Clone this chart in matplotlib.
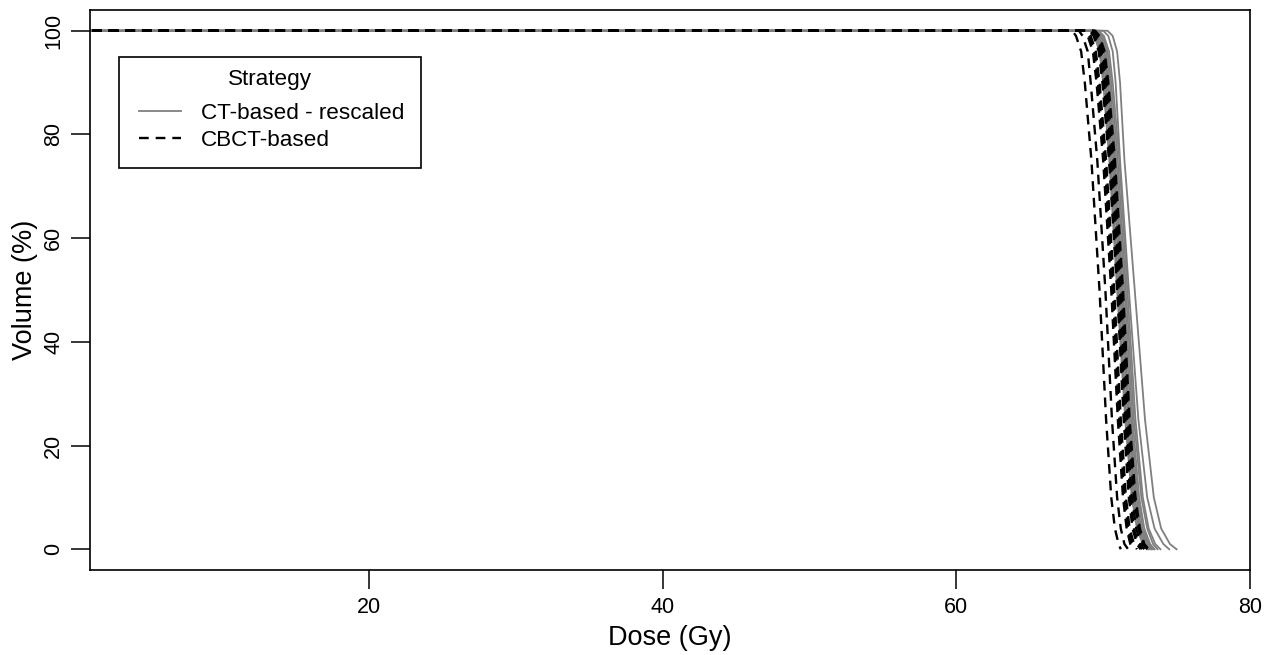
import numpy as np
import matplotlib
matplotlib.use("Agg")
import matplotlib.pyplot as plt
from matplotlib.lines import Line2D
from matplotlib.patches import Rectangle

plt.rcParams['font.family'] = ['Liberation Sans', 'DejaVu Sans']
plt.rcParams['lines.scale_dashes'] = False

vol_levels = [100, 99, 96, 90, 75, 50, 25, 10, 4, 1, 0]

# CT-based - rescaled (grey, solid): dose (Gy) at each volume level
ct_rescaled = [
    [70.30, 70.65, 70.95, 71.15, 71.45, 72.15, 72.85, 73.45, 73.95, 74.55, 75.00],
    [70.00, 70.35, 70.65, 70.85, 71.15, 71.75, 72.40, 73.00, 73.50, 74.10, 74.50],
    [69.70, 70.05, 70.40, 70.65, 71.10, 71.65, 72.20, 72.70, 73.10, 73.55, 73.90],
    [69.60, 69.95, 70.30, 70.55, 71.00, 71.55, 72.10, 72.60, 73.00, 73.40, 73.70],
    [69.55, 69.85, 70.20, 70.45, 70.90, 71.45, 72.00, 72.45, 72.80, 73.20, 73.50],
    [69.45, 69.75, 70.10, 70.35, 70.80, 71.35, 71.90, 72.35, 72.70, 73.10, 73.40],
    [69.40, 69.70, 70.05, 70.30, 70.72, 71.25, 71.80, 72.25, 72.60, 73.00, 73.30],
    [69.30, 69.60, 69.95, 70.20, 70.62, 71.15, 71.70, 72.15, 72.50, 72.90, 73.20],
    [69.20, 69.50, 69.85, 70.10, 70.52, 71.05, 71.60, 72.05, 72.40, 72.80, 73.10],
    [69.10, 69.40, 69.75, 70.00, 70.42, 70.95, 71.50, 71.95, 72.30, 72.70, 73.00],
]

# CBCT-based (black, dashed)
cbct_based = [
    [67.90, 68.15, 68.50, 68.75, 69.20, 69.75, 70.20, 70.55, 70.80, 71.05, 71.20],
    [68.35, 68.60, 68.95, 69.15, 69.60, 70.15, 70.60, 70.95, 71.20, 71.45, 71.70],
    [68.70, 68.95, 69.30, 69.55, 70.00, 70.55, 71.00, 71.35, 71.60, 71.85, 72.05],
    [68.80, 69.05, 69.40, 69.65, 70.10, 70.65, 71.10, 71.45, 71.70, 71.95, 72.15],
    [68.85, 69.15, 69.50, 69.75, 70.20, 70.75, 71.20, 71.55, 71.80, 72.10, 72.30],
    [69.05, 69.35, 69.70, 69.95, 70.40, 70.95, 71.40, 71.75, 72.00, 72.30, 72.55],
    [69.15, 69.45, 69.80, 70.05, 70.50, 71.05, 71.50, 71.85, 72.10, 72.40, 72.65],
    [69.25, 69.55, 69.90, 70.15, 70.60, 71.15, 71.60, 71.95, 72.25, 72.55, 72.80],
    [69.35, 69.65, 70.00, 70.25, 70.70, 71.25, 71.70, 72.10, 72.40, 72.70, 73.00],
    [69.45, 69.75, 70.10, 70.35, 70.80, 71.35, 71.80, 72.20, 72.50, 72.80, 73.10],
]

dose_start = 0.0
x_ticks = [20, 40, 60, 80]
y_ticks = [0, 20, 40, 60, 80, 100]
legend_labels = ['CT-based - rescaled', 'CBCT-based']
legend_title = 'Strategy'

grey = '#7f7f7f'
dash = (7.0, 5.0)

W, H = 1276, 655
fig = plt.figure(figsize=(W / 100, H / 100), dpi=100)
ax = fig.add_axes([90 / W, 1 - 570 / H, 1160 / W, 560 / H])


def px2ax(px, py):
    # pixel position in the image -> axes fraction
    return (px - 90) / 1160, (570 - py) / 560


# grey curves first, dashed drawn over them
for d in ct_rescaled:
    ax.plot([dose_start] + d, [100] + vol_levels, color=grey, lw=1.3)
for d in cbct_based:
    ax.plot([dose_start] + d, [100] + vol_levels, color='black', lw=1.7,
            linestyle=(0, dash))

ax.set_xlim(1, 80)
ax.set_ylim(-4, 104)
ax.set_xticks(x_ticks)
ax.set_yticks(y_ticks)
ax.set_yticklabels([str(v) for v in y_ticks], rotation=90, va='center')
ax.tick_params(direction='out', length=13.5, width=1.1, labelsize=15.5, colors='black')
ax.tick_params(axis='x', pad=6)
ax.tick_params(axis='y', pad=5)
for s in ax.spines.values():
    s.set_linewidth(1.2)

ax.set_xlabel('Dose (Gy)', fontsize=19.5, labelpad=5)
ax.set_ylabel('Volume (%)', fontsize=19.5, labelpad=4)

# legend box drawn like R's legend(): frame, centred title, two entries
x0, y0 = px2ax(119, 168)
x1, y1 = px2ax(421, 57)
ax.add_patch(Rectangle((x0, y0), x1 - x0, y1 - y0, transform=ax.transAxes,
                       facecolor='white', edgecolor='black', lw=1.2, zorder=5))
tx, ty = px2ax(270, 85)
ax.text(tx, ty, legend_title, transform=ax.transAxes, ha='center', va='baseline',
        fontsize=16.2, zorder=6)

handles = [
    Line2D([], [], color=grey, lw=1.3),
    Line2D([], [], color='black', lw=1.7, linestyle=(0, dash)),
]
leg = ax.legend(handles, legend_labels, loc='center left',
                bbox_to_anchor=px2ax(139, 127), borderaxespad=0, borderpad=0,
                frameon=False, fontsize=16.2, handlelength=42 / 22.5,
                handletextpad=20 / 22.5, labelspacing=0.25)
leg.set_zorder(7)

fig.savefig('out.png', dpi=100)
